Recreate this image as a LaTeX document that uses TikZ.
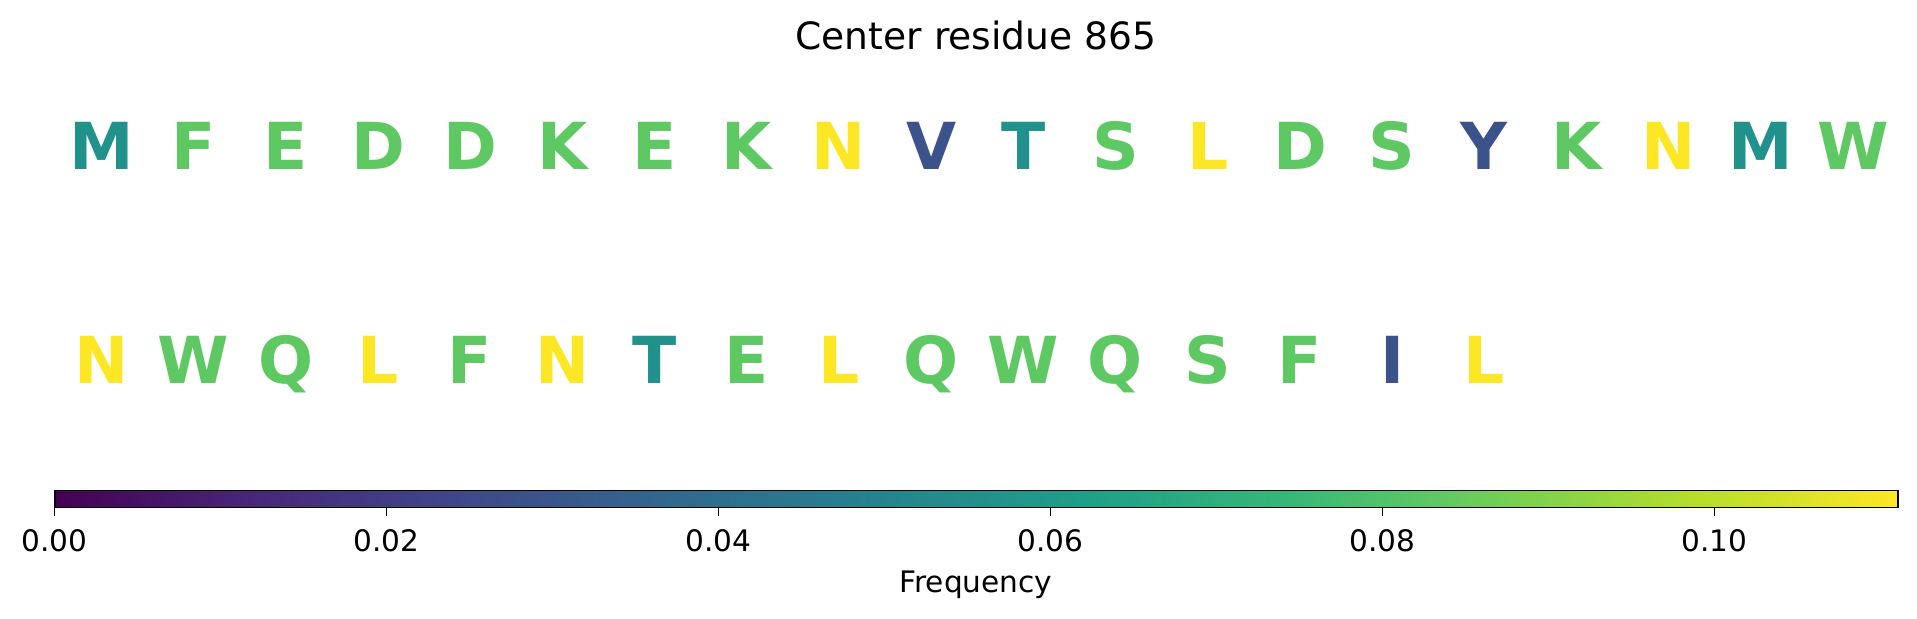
\documentclass[tikz,border=0pt]{standalone}
\usepackage{fontspec}
\setmainfont{DejaVu Sans}

\definecolor{fone}{HTML}{3B528B}
\definecolor{ftwo}{HTML}{21918C}
\definecolor{fthree}{HTML}{5EC962}
\definecolor{ffour}{HTML}{FDE725}

\definecolor{vir0}{HTML}{440154}
\definecolor{vir1}{HTML}{482878}
\definecolor{vir2}{HTML}{3E4989}
\definecolor{vir3}{HTML}{31688E}
\definecolor{vir4}{HTML}{26828E}
\definecolor{vir5}{HTML}{1F9E89}
\definecolor{vir6}{HTML}{35B779}
\definecolor{vir7}{HTML}{6ECE58}
\definecolor{vir8}{HTML}{B5DE2B}
\definecolor{vir9}{HTML}{FDE725}

\pgfdeclarehorizontalshading{viridis}{100bp}{color(0bp)=(vir0); color(25bp)=(vir0);
  color(30.56bp)=(vir1); color(36.11bp)=(vir2); color(41.67bp)=(vir3); color(47.22bp)=(vir4);
  color(52.78bp)=(vir5); color(58.33bp)=(vir6); color(63.89bp)=(vir7); color(69.44bp)=(vir8);
  color(75bp)=(vir9); color(100bp)=(vir9)}

\begin{document}
\begin{tikzpicture}[x=0.5pt,y=-0.5pt,
  every node/.style={inner sep=0pt,anchor=base},
  res/.style={text=#1,font=\fontsize{32.4}{36}\selectfont\bfseries},
  tick/.style={font=\fontsize{14.8}{17}\selectfont}]
  \useasboundingbox (0,0) rectangle (1917,619);

  \draw (976,50) node[font=\fontsize{18.8}{22}\selectfont](title) {Center residue 865};

  % first row
  \draw ( 101.3,170) node[res=ftwo](a1)     {M};
  \draw ( 193.5,170) node[res=fthree](a2)   {F};
  \draw ( 285.7,170) node[res=fthree](a3)   {E};
  \draw ( 377.9,170) node[res=fthree](a4)   {D};
  \draw ( 470.1,170) node[res=fthree](a5)   {D};
  \draw ( 562.3,170) node[res=fthree](a6)   {K};
  \draw ( 654.5,170) node[res=fthree](a7)   {E};
  \draw ( 746.7,170) node[res=fthree](a8)   {K};
  \draw ( 838.9,170) node[res=ffour](a9)    {N};
  \draw ( 931.1,170) node[res=fone](a10)    {V};
  \draw (1023.3,170) node[res=ftwo](a11)    {T};
  \draw (1115.5,170) node[res=fthree](a12)  {S};
  \draw (1207.7,170) node[res=ffour](a13)   {L};
  \draw (1299.9,170) node[res=fthree](a14)  {D};
  \draw (1392.1,170) node[res=fthree](a15)  {S};
  \draw (1484.3,170) node[res=fone](a16)    {Y};
  \draw (1576.5,170) node[res=fthree](a17)  {K};
  \draw (1668.7,170) node[res=ffour](a18)   {N};
  \draw (1760.9,170) node[res=ftwo](a19)    {M};
  \draw (1853.1,170) node[res=fthree](a20)  {W};

  % second row
  \draw ( 101.3,383.3) node[res=ffour](b1)    {N};
  \draw ( 193.5,383.3) node[res=fthree](b2)   {W};
  \draw ( 285.7,383.3) node[res=fthree](b3)   {Q};
  \draw ( 377.9,383.3) node[res=ffour](b4)    {L};
  \draw ( 470.1,383.3) node[res=fthree](b5)   {F};
  \draw ( 562.3,383.3) node[res=ffour](b6)    {N};
  \draw ( 654.5,383.3) node[res=ftwo](b7)     {T};
  \draw ( 746.7,383.3) node[res=fthree](b8)   {E};
  \draw ( 838.9,383.3) node[res=ffour](b9)    {L};
  \draw ( 931.1,383.3) node[res=fthree](b10)  {Q};
  \draw (1023.3,383.3) node[res=fthree](b11)  {W};
  \draw (1115.5,383.3) node[res=fthree](b12)  {Q};
  \draw (1207.7,383.3) node[res=fthree](b13)  {S};
  \draw (1299.9,383.3) node[res=fthree](b14)  {F};
  \draw (1392.1,383.3) node[res=fone](b15)    {I};
  \draw (1484.3,383.3) node[res=ffour](b16)   {L};

  % colour bar
  \path[shading=viridis] (54.7,490.7) rectangle (1897.7,507.7);
  \draw[line width=0.8pt] (54.7,490.7) rectangle (1897.7,507.7);

  \draw[line width=0.6pt] ( 54.7,507.7) -- ( 54.7,516);
  \draw[line width=0.6pt] (386.6,507.7) -- (386.6,516);
  \draw[line width=0.6pt] (718.5,507.7) -- (718.5,516);
  \draw[line width=0.6pt] (1050.4,507.7) -- (1050.4,516);
  \draw[line width=0.6pt] (1382.3,507.7) -- (1382.3,516);
  \draw[line width=0.6pt] (1714.2,507.7) -- (1714.2,516);

  \draw ( 54.7,551.7) node[tick](t0)   {0.00};
  \draw (386.6,551.7) node[tick](t2)   {0.02};
  \draw (718.5,551.7) node[tick](t4)   {0.04};
  \draw (1050.4,551.7) node[tick](t6)  {0.06};
  \draw (1382.3,551.7) node[tick](t8)  {0.08};
  \draw (1714.2,551.7) node[tick](t10) {0.10};

  \draw (976,593) node[tick](freq) {Frequency};

\end{tikzpicture}
\end{document}
